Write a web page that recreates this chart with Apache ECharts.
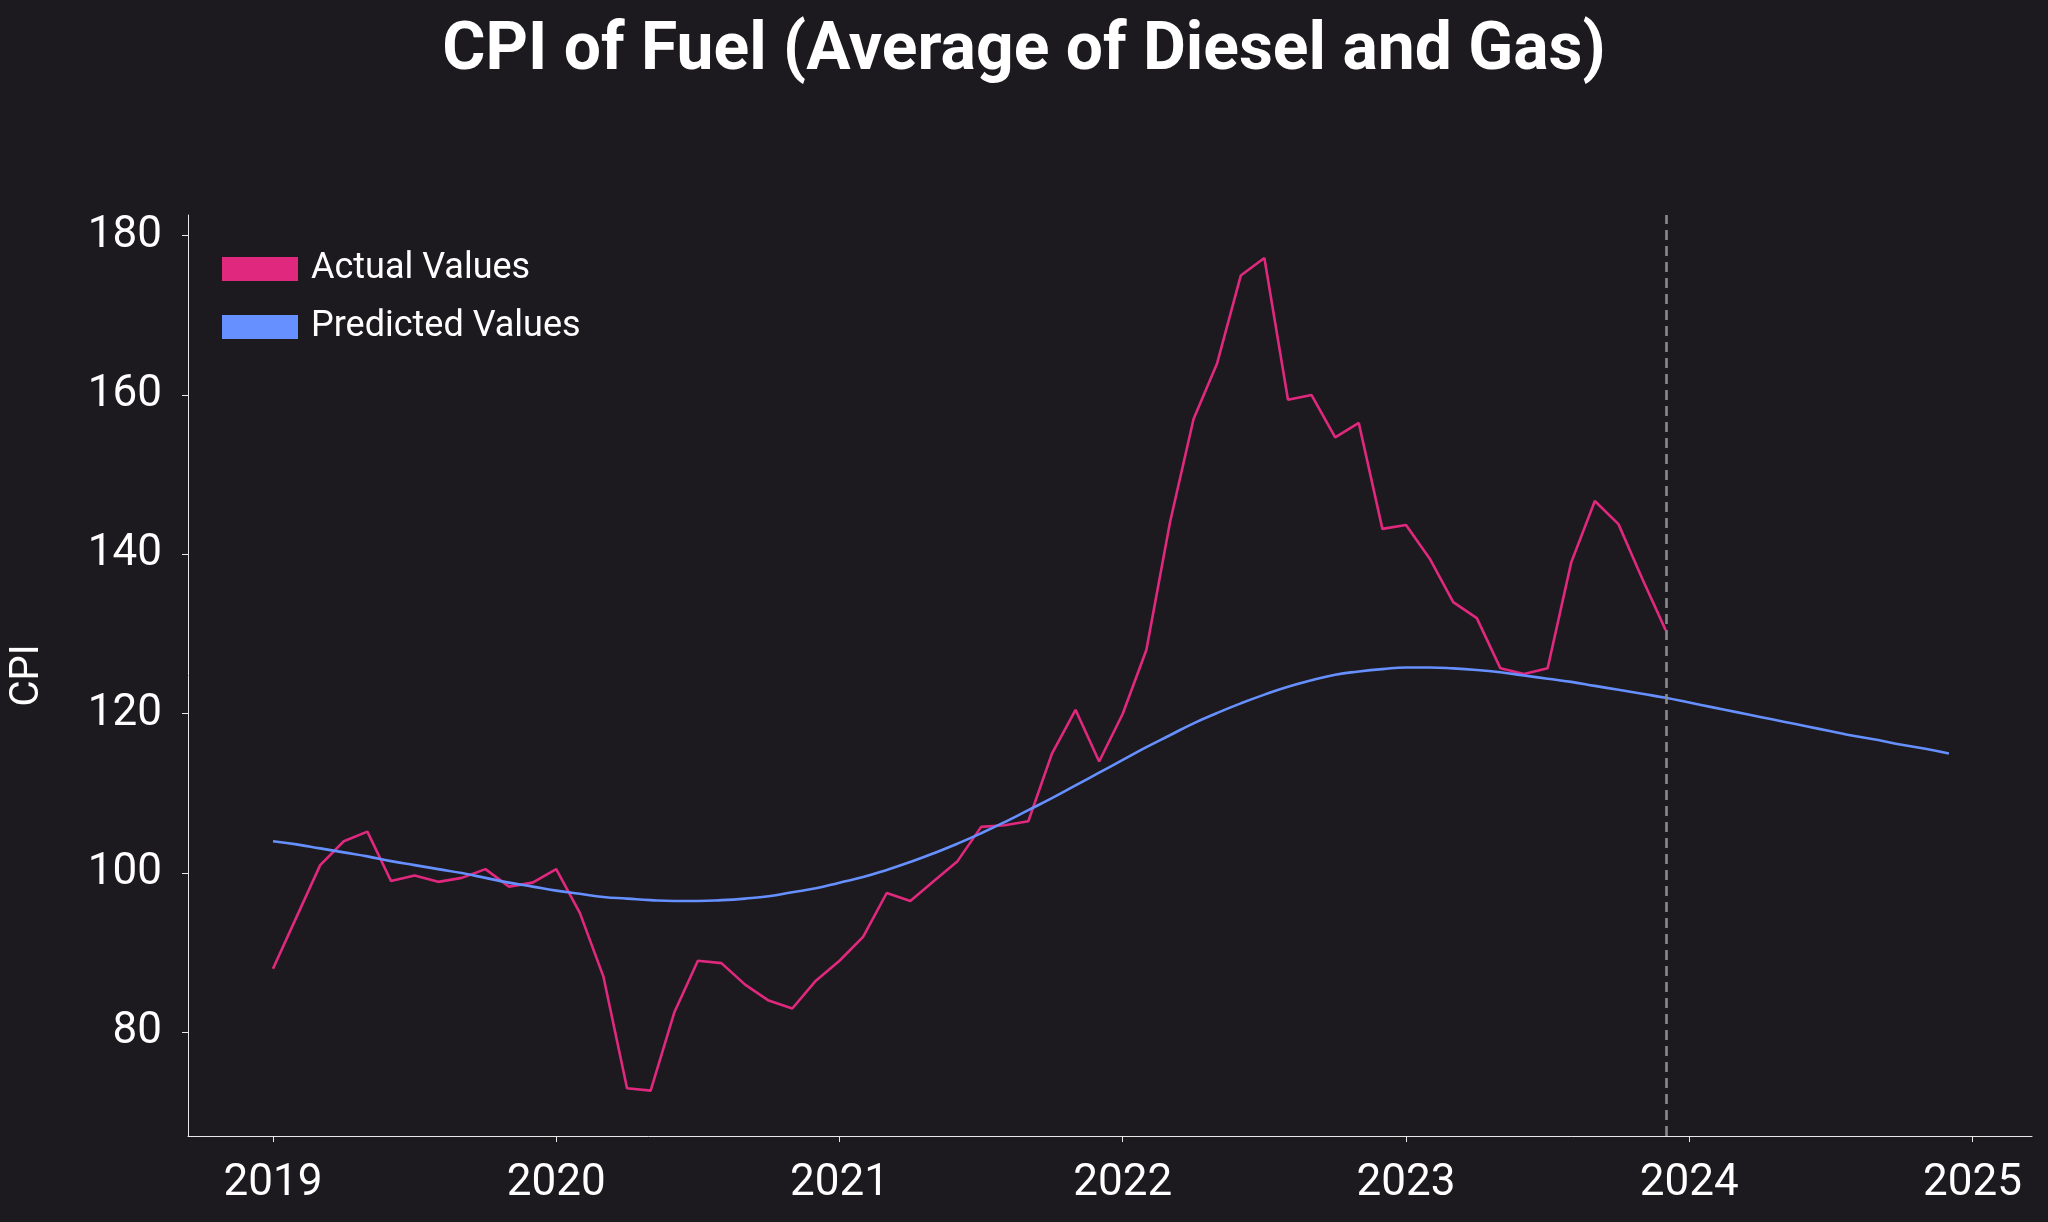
<!DOCTYPE html>
<html>
<head>
<meta charset="utf-8">
<script src="https://cdn.jsdelivr.net/npm/echarts@6/dist/echarts.min.js"></script>
<style>html,body{margin:0;padding:0;background:#1c1a1e}#chart{width:2048px;height:1222px}</style>
</head>
<body>
<div id="chart"></div>
<script>
// monthly CPI, Jan 2019 .. Dec 2023
var actual = [
  88, 94.5, 101, 104, 105.2, 99, 99.7, 98.9, 99.4, 100.5, 98.3, 98.8,
  100.5, 95, 87, 73, 72.7, 82.5, 89, 88.7, 86, 84, 83, 86.5,
  89, 92, 97.5, 96.5, 99, 101.5, 105.8, 106, 106.5, 115, 120.5, 114,
  120, 128, 144, 157, 164, 175, 177.2, 159.4, 160, 154.7, 156.5, 143.2,
  143.7, 139.5, 134, 132, 125.7, 125, 125.7, 139, 146.7, 143.8, 137, 130.5
];
// model prediction, Jan 2019 .. Dec 2024
var predicted = [
  104, 103.6, 103.1, 102.6, 102.1, 101.5, 101, 100.5, 100, 99.4, 98.8, 98.3,
  97.8, 97.4, 97.0, 96.8, 96.6, 96.5, 96.5, 96.6, 96.8, 97.1, 97.6, 98.1,
  98.8, 99.5, 100.4, 101.4, 102.5, 103.7, 105, 106.4, 107.9, 109.4, 111, 112.6,
  114.2, 115.8, 117.3, 118.8, 120.1, 121.3, 122.4, 123.4, 124.2, 124.9, 125.3, 125.6,
  125.8, 125.8, 125.7, 125.5, 125.2, 124.8, 124.4, 124, 123.5, 123, 122.5, 122,
  121.4, 120.8, 120.2, 119.6, 119, 118.4, 117.8, 117.2, 116.7, 116.1, 115.6, 115
];
var yearTicks = [2019, 2020, 2021, 2022, 2023, 2024, 2025];
var cpiTicks = [80, 100, 120, 140, 160, 180];
var cutoff = 2023 + 11 / 12;

function toPoints(arr) {
  return arr.map(function (v, i) { return [2019 + i / 12, v]; });
}

var chart = echarts.init(document.getElementById('chart'));
var axisColor = '#e8e8e8';
chart.setOption({
  backgroundColor: '#1c1a1e',
  textStyle: { fontFamily: 'Roboto' },
  title: {
    text: 'CPI of Fuel (Average of Diesel and Gas)',
    left: 'center', top: 14,
    textStyle: { color: '#ffffff', fontSize: 66, fontWeight: 'bold', fontFamily: 'Roboto' }
  },
  legend: {
    orient: 'vertical', left: 217, top: 246, itemGap: 22,
    itemWidth: 76, itemHeight: 24, icon: 'rect',
    textStyle: { color: '#ffffff', fontSize: 36, padding: [0, 0, 0, 8] },
    data: ['Actual Values', 'Predicted Values']
  },
  grid: { left: 184, right: 16, top: 215, bottom: 86 },
  xAxis: {
    type: 'value', min: 2018.7, max: 2025.21,
    splitLine: { show: false },
    axisLine: { lineStyle: { color: axisColor } },
    axisTick: { show: true, length: 6, customValues: yearTicks, lineStyle: { color: axisColor } },
    axisLabel: { customValues: yearTicks, color: '#ffffff', fontSize: 44, margin: 26, formatter: function (v) { return String(v); } }
  },
  yAxis: {
    type: 'value', min: 67, max: 182.6,
    name: 'CPI', nameLocation: 'middle', nameGap: 140,
    nameTextStyle: { color: '#ffffff', fontSize: 40 },
    splitLine: { show: false },
    axisLine: { show: true, lineStyle: { color: axisColor } },
    axisTick: { show: true, length: 6, customValues: cpiTicks, lineStyle: { color: axisColor } },
    axisLabel: { customValues: cpiTicks, color: '#ffffff', fontSize: 44, margin: 26 }
  },
  series: [
    {
      name: 'Actual Values', type: 'line', data: toPoints(actual),
      showSymbol: false, color: '#e0287e',
      lineStyle: { width: 2.6, color: '#e0287e' },
      markLine: {
        silent: true, symbol: 'none', label: { show: false },
        lineStyle: { type: [10, 6], color: '#8a8a8a', width: 2.6 },
        data: [{ xAxis: cutoff }]
      }
    },
    {
      name: 'Predicted Values', type: 'line', data: toPoints(predicted),
      showSymbol: false, smooth: true, color: '#6690ff',
      lineStyle: { width: 2.6, color: '#6690ff' }
    }
  ]
});
</script>
</body>
</html>
